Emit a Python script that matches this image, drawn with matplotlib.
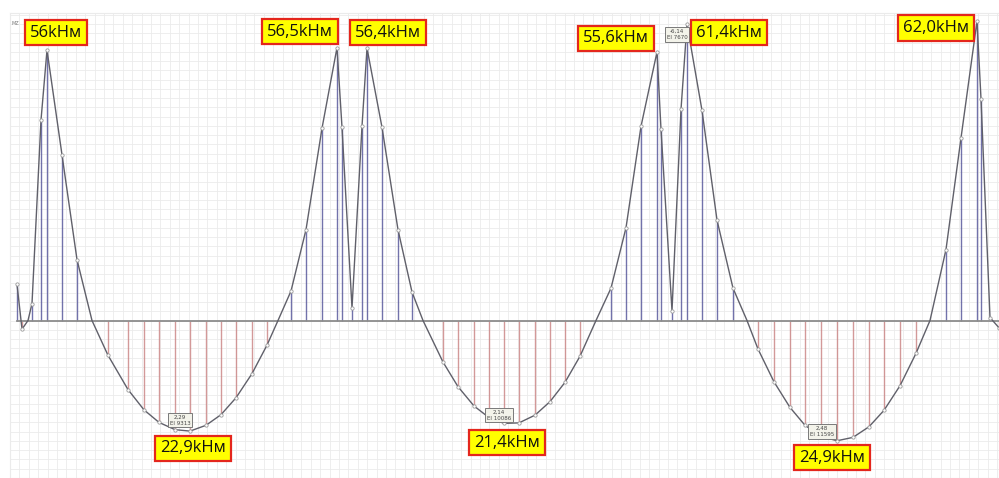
import numpy as np
import matplotlib
matplotlib.use("Agg")
import matplotlib.pyplot as plt

# Bending moment diagram, kNm. x = position along the beam (screen units of the original program)
node_x = [17, 22, 28, 32, 41, 47, 62, 77, 92,
          108, 128, 144, 159, 175, 190, 206, 221, 236, 252, 267, 278,
          291, 306, 322, 337, 342, 352, 362, 367, 382, 398, 412, 423,
          443, 458, 474, 489, 504, 519, 535, 550, 565, 580, 596,
          611, 626, 641, 657, 661, 672, 681, 687, 702, 717, 733, 747,
          758, 774, 790, 805, 821, 837, 853, 869, 884, 900, 916, 930,
          946, 961, 977, 981, 990, 999]
node_m = [7.5, -1.8, 0.0, 3.5, 41.5, 56.0, 34.3, 12.6, 0.0,
          -7.2, -14.3, -18.5, -21.1, -22.6, -22.9, -21.7, -19.5, -16.0, -11.0, -5.1, 0.0,
          6.1, 18.8, 39.8, 56.5, 40.0, 2.6, 40.2, 56.4, 40.0, 18.8, 5.9, 0.0,
          -8.6, -13.7, -17.7, -20.1, -21.3, -21.2, -19.6, -16.8, -12.8, -7.4, 0.0,
          6.7, 19.2, 40.2, 55.6, 39.6, 2.0, 43.7, 61.4, 43.5, 20.8, 6.7, 0.0,
          -5.9, -12.7, -18.0, -21.7, -24.0, -24.9, -24.2, -22.0, -18.6, -13.5, -6.8, 0.0,
          14.7, 37.8, 62.0, 45.9, 0.6, -1.5]

label_texts = ["56kНм", "56,5kНм", "56,4kНм", "55,6kНм", "61,4kНм", "62,0kНм",
               "22,9kНм", "21,4kНм", "24,9kНм"]
label_pos = [(56, 59.6), (300, 59.8), (388, 59.6), (616, 58.4), (729, 59.6), (936, 60.6),
             (193, -26.5), (507, -25.3), (832, -28.4)]

tip_texts = ["2,29\nEI 9313", "2,14\nEI 10086", "2,48\nEI 11595", "-6,14\nEI 7670"]
tip_pos = [(180, -20.6), (499, -19.6), (822, -23.0), (677, 59.2)]

px_per_knm = 4.9
grid_step = 9.4

fig = plt.figure(figsize=(9.99, 4.78), dpi=100)
ax = fig.add_axes([10 / 999, 0, 989 / 999, 465 / 478])
ax.set_xlim(10, 999)
ax.set_ylim(-153 / px_per_knm, 312 / px_per_knm)

# background grid
ax.set_xticks(np.arange(10, 1000, grid_step))
ax.set_yticks(np.arange(-17, 34) * grid_step / px_per_knm)
ax.grid(True, color="#ebebeb", lw=0.6)
ax.tick_params(length=0, labelbottom=False, labelleft=False)
for s in ax.spines.values():
    s.set_color("#ebebeb")
ax.set_axisbelow(True)

x = np.array(node_x)
m = np.array(node_m)

# hatch lines
pos = m > 0.05
neg = m < -0.05
ax.vlines(x[pos], 0, m[pos], color="#4f4f96", lw=1.0, alpha=0.8, zorder=2)
ax.vlines(x[neg], 0, m[neg], color="#c98080", lw=1.0, alpha=0.8, zorder=2)

# baseline
ax.plot([17, 999], [0, 0], color="#8c8c8c", lw=1.3, zorder=3)

# diagram outline
ax.plot(x, m, color="#60606a", lw=1.0, zorder=4)
ax.plot(x[pos | neg], m[pos | neg], ls="none", marker="o", ms=2.4, mfc="white",
        mec="#9a9a9a", mew=0.6, zorder=5)

ax.text(12, 61.5, "MZ", fontsize=3.5, color="#777777", ha="left", va="center")

for t, (tx, ty) in zip(tip_texts, tip_pos):
    ax.text(tx, ty, t, fontsize=4, color="#444444", ha="center", va="center",
            linespacing=1.3, zorder=6,
            bbox=dict(boxstyle="square,pad=0.3", fc="#f3f3ea", ec="#7a7a7a", lw=0.7))

for t, (tx, ty) in zip(label_texts, label_pos):
    ax.text(tx, ty, t, fontsize=12, family=["Open Sans", "DejaVu Sans"], color="#111111",
            ha="center", va="center", zorder=7,
            bbox=dict(boxstyle="square,pad=0.28", fc="#ffff00", ec="#e4261c", lw=1.6))

fig.savefig("out.png", dpi=100, facecolor="white")
